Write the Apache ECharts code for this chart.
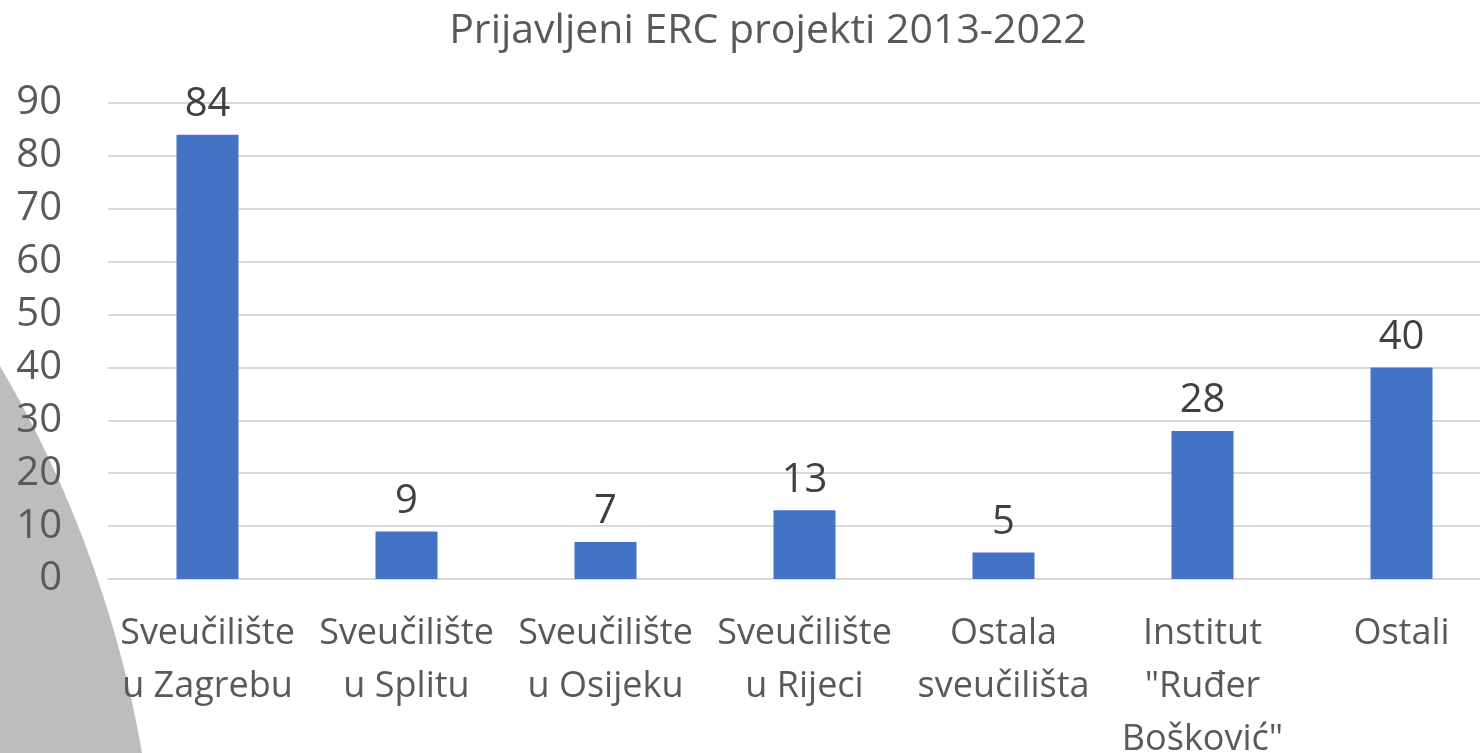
<!DOCTYPE html>
<html>
<head>
<meta charset="utf-8">
<script src="https://cdn.jsdelivr.net/npm/echarts@6/dist/echarts.min.js"></script>
<style>
  html, body { margin: 0; padding: 0; background: #fff; }
  #chart { width: 1480px; height: 753px; }
</style>
</head>
<body>
<div id="chart"></div>
<script>
// podaci
const categories = [
  'Sveučilište\nu Zagrebu',
  'Sveučilište\nu Splitu',
  'Sveučilište\nu Osijeku',
  'Sveučilište\nu Rijeci',
  'Ostala\nsveučilišta',
  'Institut\n"Ruđer\nBošković"',
  'Ostali',
]
const projects = [84, 9, 7, 13, 5, 28, 40]
const yTicks = { min: 0, max: 90, step: 10 }

const FONT = '"Open Sans", "Noto Sans", sans-serif'

const chart = echarts.init(document.getElementById('chart'), undefined, { renderer: 'canvas' })

chart.setOption({
  backgroundColor: '#fff',
  animation: false,
  title: {
    text: 'Prijavljeni ERC projekti 2013-2022',
    left: 763,
    top: 6,
    textAlign: 'center',
    textStyle: { color: '#595959', fontSize: 41, fontWeight: 'normal', fontFamily: FONT },
  },
  graphic: [
    {
      type: 'circle',
      z: -10,
      silent: true,
      shape: { cx: -993, cy: 950, r: 1152 },
      style: { fill: '#bdbdbd' },
    },
  ],
  grid: { left: 108, right: -21, top: 103, bottom: 174, outerBoundsMode: 'none' },
  xAxis: {
    type: 'category',
    data: categories,
    axisLine: { lineStyle: { color: '#d9d9d9', width: 2 } },
    axisTick: { show: false },
    axisLabel: {
      color: '#595959',
      fontSize: 36,
      fontFamily: FONT,
      lineHeight: 53,
      margin: 28,
      interval: 0,
    },
  },
  yAxis: {
    type: 'value',
    min: yTicks.min,
    max: yTicks.max,
    interval: yTicks.step,
    axisLine: { show: false },
    axisTick: { show: false },
    axisLabel: { color: '#595959', fontSize: 40, fontFamily: FONT, margin: 46 },
    splitLine: { lineStyle: { color: '#d9d9d9', width: 2 } },
  },
  series: [
    {
      type: 'bar',
      data: projects,
      barWidth: 62,
      itemStyle: { color: '#4472c4' },
      label: {
        show: true,
        position: 'top',
        distance: 10,
        color: '#404040',
        fontSize: 40,
        fontFamily: FONT,
      },
    },
  ],
})
</script>
</body>
</html>
